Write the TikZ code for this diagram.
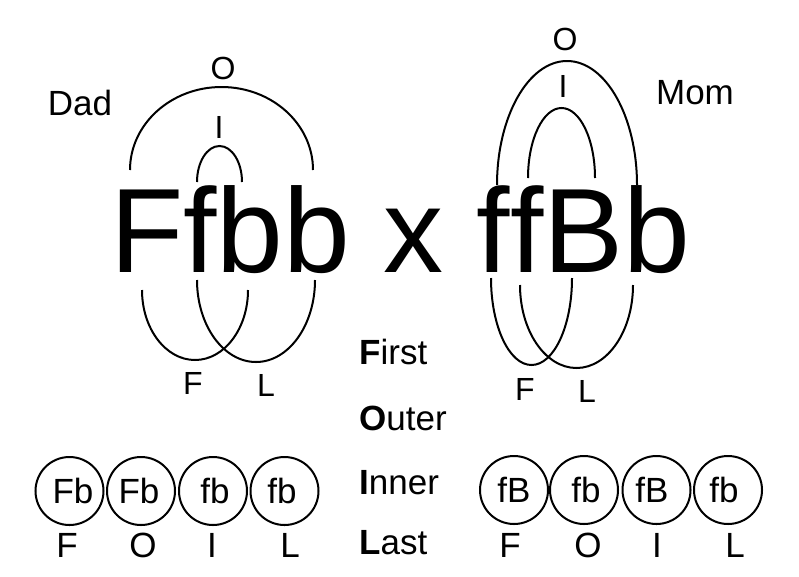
\documentclass[tikz,border=0pt]{standalone}
\usepackage{fontspec}
\setmainfont{Liberation Sans}
\begin{document}
\begin{tikzpicture}[x=1pt,y=-1pt,
  arcline/.style={line width=2pt},
  lbl/.style={font=\fontsize{32}{36}\selectfont, inner sep=0pt},
  txt/.style={font=\fontsize{35}{40}\selectfont, inner sep=0pt},
  word/.style={font=\fontsize{35}{40}\selectfont, inner sep=0pt, anchor=west},
  gamete/.style={circle, draw, line width=2pt, minimum size=68pt, inner sep=0pt},
  big/.style={font=\fontsize{120}{130}\selectfont, inner sep=0pt, anchor=base west}
]
\useasboundingbox (0,0) rectangle (799,576);

% big cross
\node[big] (cross) at (110,272.5) {Ffbb x f\kern0pt fBb};

% parents
\node[txt] (dad) at (80,102.5) {Dad};
\node[txt] (mom) at (695,92.5) {Mom};

% Dad arcs
\draw[arcline] (130,170) coordinate (dOl) arc[start angle=180, end angle=0, x radius=91.5pt, y radius=83pt] coordinate (dOr);
\draw[arcline] (197,182) coordinate (dIl) arc[start angle=180, end angle=0, x radius=22.5pt, y radius=36pt] coordinate (dIr);
\draw[arcline] (142,290) coordinate (dFl) arc[start angle=180, end angle=360, x radius=53pt, y radius=70pt] coordinate (dFr);
\draw[arcline] (197,280) coordinate (dLl) arc[start angle=180, end angle=360, x radius=59pt, y radius=82pt] coordinate (dLr);
\node[lbl] (dO) at (223,68.5) {O};
\node[lbl] (dI) at (219,127) {I};
\node[lbl] (dF) at (193,383.5) {F};
\node[lbl] (dL) at (266,385) {L};

% Mom arcs
\draw[arcline] (497,185) coordinate (mOl) arc[start angle=180, end angle=0, x radius=70pt, y radius=124pt] coordinate (mOr);
\draw[arcline] (528,178) coordinate (mIl) arc[start angle=180, end angle=0, x radius=33.5pt, y radius=70pt] coordinate (mIr);
\draw[arcline] (491,278) coordinate (mFl) arc[start angle=180, end angle=360, x radius=40.5pt, y radius=87pt] coordinate (mFr);
\draw[arcline] (520,285) coordinate (mLl) arc[start angle=180, end angle=360, x radius=56.5pt, y radius=83pt] coordinate (mLr);
\node[lbl] (mO) at (565,39) {O};
\node[lbl] (mI) at (563,86) {I};
\node[lbl] (mF) at (525,389) {F};
\node[lbl] (mL) at (587,391.5) {L};

% FOIL words
\node[word] (first) at (359,351.5) {\textbf{F}irst};
\node[word] (outer) at (359,418) {\textbf{O}uter};
\node[word] (inner) at (359,483) {\textbf{I}nner};
\node[word] (last) at (359,543) {\textbf{L}ast};

% Dad gametes
\node[gamete] (d1) at (69.5,491) {};
\node[gamete] (d2) at (141,491) {};
\node[gamete] (d3) at (213,491) {};
\node[gamete] (d4) at (284.5,491) {};
\node[txt] (d1t) at (73,490.5) {Fb};
\node[txt] (d2t) at (139,490.5) {Fb};
\node[txt] (d3t) at (215,490.5) {fb};
\node[txt] (d4t) at (282,490.5) {fb};
\node[txt] (d1l) at (67,545) {F};
\node[txt] (d2l) at (143,545) {O};
\node[txt] (d3l) at (212,545) {I};
\node[txt] (d4l) at (290,545) {L};

% Mom gametes
\node[gamete] (m1) at (514,490) {};
\node[gamete] (m2) at (584,490) {};
\node[gamete] (m3) at (656.5,490) {};
\node[gamete] (m4) at (728,490) {};
\node[txt] (m1t) at (514,490) {fB};
\node[txt] (m2t) at (586,490) {fb};
\node[txt] (m3t) at (652,490) {fB};
\node[txt] (m4t) at (724,490) {fb};
\node[txt] (m1l) at (510,545) {F};
\node[txt] (m2l) at (588,545) {O};
\node[txt] (m3l) at (657,545) {I};
\node[txt] (m4l) at (735,545) {L};
\end{tikzpicture}
\end{document}
